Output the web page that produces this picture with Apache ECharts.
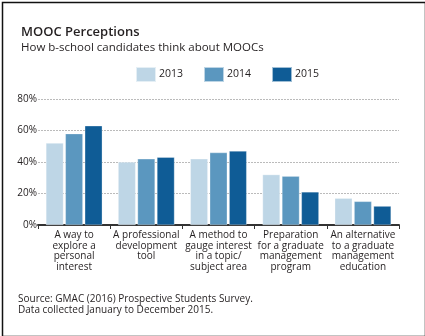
<!DOCTYPE html>
<html>
<head>
<meta charset="utf-8">
<script src="https://cdn.jsdelivr.net/npm/echarts@6/dist/echarts.min.js"></script>
<style>
  html, body { margin: 0; padding: 0; background: #fff; }
  #chart { width: 425px; height: 336px; }
</style>
</head>
<body>
<div id="chart"></div>
<script>
// Survey answers: what MOOCs are to b-school candidates
const categories = [
  'A way to\nexplore a\npersonal\ninterest',
  'A professional\ndevelopment\ntool',
  'A method to\ngauge interest\nin a topic/\nsubject area',
  'Preparation\nfor a graduate\nmanagement\nprogram',
  'An alternative\nto a graduate\nmanagement\neducation'
];
const years = ['2013', '2014', '2015'];
const values2013 = [52, 40, 42, 32, 17];
const values2014 = [58, 42, 46, 31, 15];
const values2015 = [63, 43, 47, 21, 12];
const yTicks = [0, 20, 40, 60, 80];

const colors = ['#bed6e6', '#5b97bf', '#0f5c96'];
const FONT = '"Open Sans", sans-serif';

const chart = echarts.init(document.getElementById('chart'), null, { renderer: 'canvas' });

const seriesData = [values2013, values2014, values2015];

chart.setOption({
  animation: false,
  backgroundColor: '#fff',
  textStyle: { fontFamily: FONT },
  title: [
    {
      text: 'MOOC Perceptions',
      left: 16, top: 21,
      textStyle: { fontFamily: FONT, fontSize: 13, fontWeight: 600, color: '#231f20' }
    },
    {
      text: 'How b-school candidates think about MOOCs',
      left: 16, top: 37,
      textStyle: { fontFamily: FONT, fontSize: 11.5, fontWeight: 'normal', color: '#231f20' }
    }
  ],
  legend: {
    data: years,
    left: 130, top: 61,
    itemWidth: 20, itemHeight: 15, itemGap: 20,
    icon: 'rect',
    textStyle: { fontFamily: FONT, fontSize: 10.5, color: '#231f20', padding: [0, 0, 0, -2] }
  },
  grid: { left: 38, right: 26, top: 99, bottom: 111, containLabel: false },
  xAxis: {
    type: 'category',
    data: categories,
    axisLine: { lineStyle: { color: '#333', width: 2 } },
    axisTick: { show: true, length: 4, lineStyle: { color: '#333', width: 1 } },
    axisLabel: {
      interval: 0, margin: 5,
      fontFamily: FONT, fontSize: 10, lineHeight: 10.6, color: '#231f20', align: 'center'
    }
  },
  yAxis: {
    type: 'value',
    min: yTicks[0], max: yTicks[yTicks.length - 1], interval: 20,
    axisLine: { show: false },
    axisTick: { show: false },
    axisLabel: {
      margin: 1,
      fontFamily: FONT, fontSize: 10, color: '#231f20',
      formatter: v => v + '%'
    },
    splitLine: { lineStyle: { color: '#bbb', type: [2, 1], width: 1 } }
  },
  series: years.map((y, i) => ({
    name: y,
    type: 'bar',
    data: seriesData[i],
    barWidth: 17.5,
    barGap: '11%',
    itemStyle: { color: colors[i], borderColor: 'rgba(255,255,255,0.6)', borderWidth: 0.5 }
  })),
  graphic: [
    {
      type: 'text', left: 18, top: 294,
      style: {
        text: 'Source: GMAC (2016) Prospective Students Survey.\nData collected January to December 2015.',
        font: '10px ' + FONT, fill: '#231f20', lineHeight: 10.6
      }
    },
    {
      type: 'rect', left: 0, top: 0, silent: true,
      shape: { x: 0.5, y: 0.5, width: 423, height: 334 },
      style: { fill: 'none', stroke: '#111', lineWidth: 1.5 }
    }
  ]
});
</script>
</body>
</html>
